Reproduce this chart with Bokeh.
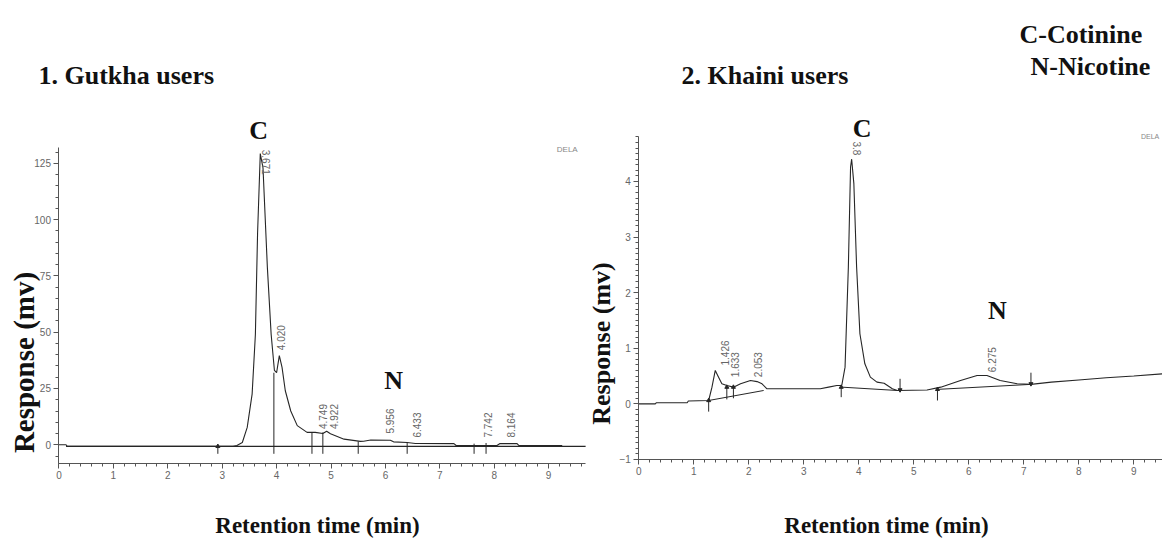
from bokeh.plotting import figure
from bokeh.layouts import row
from bokeh.models import Label, SingleIntervalTicker, ColumnDataSource
from bokeh.core.properties import value
from bokeh.embed import file_html
from bokeh.resources import INLINE
import math

# ---------------- data: 1. Gutkha users ----------------
g_time = [0, 0.13, 0.15, 3.2, 3.27, 3.37, 3.46, 3.55, 3.61, 3.65, 3.70, 3.75, 3.83, 3.90,
          3.96, 4.00, 4.05, 4.10, 4.16, 4.26, 4.38, 4.56, 4.71, 4.85, 4.92, 4.99, 5.24,
          5.54, 5.60, 5.73, 6.09, 6.15, 6.40, 6.55, 7.26, 7.30, 8.05, 8.10, 8.42, 8.45, 9.25]
g_resp = [0, 0, -0.7, -0.7, -0.3, 1.0, 7.7, 22.5, 49, 93.7, 129.3, 123, 78.9, 49,
          33, 32, 39.6, 34.4, 24, 15, 8.5, 5.5, 5.5, 5.0, 6.0, 4.9, 2.5,
          1.5, 1.6, 2.1, 2.0, 1.3, 1.0, 0.6, 0.5, -0.3, -0.3, 0.5, 0.5, -0.3, -0.3]
g_base_t = [0.13, 9.68]
g_base_r = [-0.7, -0.7]
g_mark_t = [3.95, 4.65, 4.85, 5.5, 6.4, 7.63, 7.85]
g_mark_top = [32, 5.5, 5.5, 1.5, 1.0, 0.5, 0.8]
g_mark_bot = [-4, -4, -4, -4, -4, -4, -4]
g_arrow_t = [2.92]
g_arrow_tip = [-0.7]
g_arrow_bot = [-4]
g_peak_lbl = ["4.020", "4.749", "4.922", "5.956", "6.433", "7.742", "8.164"]
g_peak_x = [4.08, 4.86, 5.06, 6.09, 6.58, 7.88, 8.31]
g_peak_y = [42, 7, 7, 5, 3.2, 3.2, 3.2]
g_top_lbl = ["3.671"]
g_top_x = [3.80]
g_top_y = [131]
g_x_ticks_end = 9.68
g_y_axis = (-8.3, 132)

# ---------------- data: 2. Khaini users ----------------
k_time = [0, 0.3, 0.32, 0.88, 0.9, 1.27, 1.33, 1.39, 1.45, 1.51, 1.6, 1.72, 1.85, 2.03,
          2.15, 2.24, 2.33, 2.45, 3.3, 3.45, 3.6, 3.69, 3.75, 3.81, 3.85, 3.87, 3.91, 3.96,
          4.02, 4.11, 4.21, 4.33, 4.46, 4.61, 4.70, 5.24, 5.49, 5.85, 6.15, 6.33, 6.57,
          6.88, 7.13, 7.5, 8.0, 8.5, 9.0, 9.53]
k_resp = [0, 0, 0.02, 0.02, 0.05, 0.06, 0.30, 0.60, 0.48, 0.36, 0.33, 0.30, 0.36, 0.42,
          0.40, 0.36, 0.27, 0.27, 0.27, 0.30, 0.33, 0.33, 0.66, 2.46, 4.26, 4.4, 3.96, 2.46,
          1.26, 0.72, 0.48, 0.39, 0.37, 0.27, 0.24, 0.25, 0.30, 0.42, 0.51, 0.51, 0.42,
          0.36, 0.35, 0.39, 0.43, 0.47, 0.50, 0.54]
k_base_t0 = [1.27, 3.69, 5.43]
k_base_r0 = [0.06, 0.30, 0.26]
k_base_t1 = [2.27, 4.70, 7.13]
k_base_r1 = [0.24, 0.24, 0.35]
k_up_t = [1.27, 1.6, 1.72, 3.68, 5.43]
k_up_tip = [0.06, 0.30, 0.30, 0.30, 0.26]
k_up_bot = [-0.14, 0.08, 0.10, 0.12, 0.06]
k_dn_t = [4.75, 7.13]
k_dn_tip = [0.25, 0.36]
k_dn_top = [0.45, 0.56]
k_peak_lbl = ["1.426", "1.633", "2.053", "6.275"]
k_peak_x = [1.57, 1.74, 2.16, 6.43]
k_peak_y = [0.69, 0.48, 0.48, 0.57]
k_top_lbl = ["3.8"]
k_top_x = [3.97]
k_top_y = [4.72]
k_x_ticks_end = 9.53
k_y_axis = (-1, 4.8)

SERIF = "Liberation Serif"
SANS = "Liberation Sans"
LINE = "#262626"
AX = "#555555"
TXT = "#666666"
INK = "#111111"


def style_axes(p):
    for ax in [p.xaxis[0], p.yaxis[0]]:
        ax.axis_line_color = AX
        ax.major_tick_line_color = AX
        ax.minor_tick_line_color = AX
        ax.major_tick_out = 5
        ax.major_tick_in = 0
        ax.minor_tick_out = 3
        ax.minor_tick_in = 0
        ax.major_label_text_font = SANS
        ax.major_label_text_font_size = "10px"
        ax.major_label_text_color = TXT
        ax.major_label_standoff = 3
    p.grid.visible = False
    p.outline_line_color = None
    p.background_fill_color = "white"
    p.border_fill_color = "white"
    p.title.text = ""
    p.title.visible = False


def screen_label(p, x, y, text, size="26px", angle=0.0, align="left", baseline="alphabetic"):
    p.add_layout(Label(x=x, y=y, x_units="screen", y_units="screen", text=text,
                       text_font=SERIF, text_font_style="bold", text_font_size=size,
                       text_color=INK, angle=angle, text_align=align,
                       text_baseline=baseline))


def peak_text(p, xs, ys, labels, angle):
    src = ColumnDataSource(dict(x=xs, y=ys, t=labels))
    p.text(x="x", y="y", text="t", source=src, angle=angle, text_align="left",
           text_baseline="middle", text_font=value(SANS), text_font_size="10px",
           text_color=TXT)


def big_letter(p, x, y, letter):
    p.text(x=[x], y=[y], text=[letter], text_font=value(SERIF), text_font_style="bold",
           text_font_size="26px", text_color=INK, text_align="center", text_baseline="middle")


# ---------------- left figure (frame = whole canvas, axes at fixed locations) ----------------
p1 = figure(width=588, height=539, x_range=(-1.075, 9.733), y_range=(-42.05, 197.27),
            output_backend="svg", toolbar_location=None,
            min_border_left=0, min_border_right=0, min_border_top=0, min_border_bottom=0)
p1.xaxis.ticker = SingleIntervalTicker(interval=1, num_minor_ticks=5)
p1.yaxis.ticker = SingleIntervalTicker(interval=25, num_minor_ticks=5)
p1.xaxis.fixed_location = g_y_axis[0]
p1.yaxis.fixed_location = 0
p1.xaxis.bounds = (0, g_x_ticks_end)
p1.yaxis.bounds = g_y_axis
style_axes(p1)

p1.line(g_base_t, g_base_r, line_color=LINE, line_width=1.1)
p1.line(g_time, g_resp, line_color=LINE, line_width=1.1)
p1.segment(x0=g_mark_t, y0=g_mark_bot, x1=g_mark_t, y1=g_mark_top, line_color=LINE, line_width=1)
p1.segment(x0=g_arrow_t, y0=g_arrow_bot, x1=g_arrow_t, y1=g_arrow_tip, line_color=LINE, line_width=1)
p1.scatter(g_arrow_t, g_arrow_tip, marker="triangle", size=4, color=LINE)
peak_text(p1, g_peak_x, g_peak_y, g_peak_lbl, math.pi / 2)
peak_text(p1, g_top_x, g_top_y, g_top_lbl, -math.pi / 2)
p1.text(x=[9.15], y=[131], text=["DELA"], text_font=value(SANS), text_font_size="8px",
        text_color="#888888", text_baseline="middle")
big_letter(p1, 3.67, 139.5, "C")
big_letter(p1, 6.15, 28.5, "N")

screen_label(p1, 38, 464, "1. Gutkha users")
screen_label(p1, 23, 177, "Response (mv)", size="29px", angle=math.pi / 2,
             align="center", baseline="middle")
screen_label(p1, 317, 14, "Retention time (min)", size="23px", align="center")

# ---------------- right figure ----------------
p2 = figure(width=574, height=539, x_range=(-0.915, 9.522), y_range=(-2.44, 7.254),
            output_backend="svg", toolbar_location=None,
            min_border_left=0, min_border_right=0, min_border_top=0, min_border_bottom=0)
p2.xaxis.ticker = SingleIntervalTicker(interval=1, num_minor_ticks=5)
p2.yaxis.ticker = SingleIntervalTicker(interval=1, num_minor_ticks=10)
p2.xaxis.fixed_location = k_y_axis[0]
p2.yaxis.fixed_location = 0
p2.xaxis.bounds = (0, k_x_ticks_end)
p2.yaxis.bounds = k_y_axis
style_axes(p2)

p2.line(k_time, k_resp, line_color=LINE, line_width=1.1)
p2.segment(x0=k_base_t0, y0=k_base_r0, x1=k_base_t1, y1=k_base_r1, line_color=LINE, line_width=1)
p2.segment(x0=k_up_t, y0=k_up_bot, x1=k_up_t, y1=k_up_tip, line_color=LINE, line_width=1)
p2.scatter(k_up_t, k_up_tip, marker="triangle", size=4, color=LINE)
p2.segment(x0=k_dn_t, y0=k_dn_top, x1=k_dn_t, y1=k_dn_tip, line_color=LINE, line_width=1)
p2.scatter(k_dn_t, k_dn_tip, marker="inverted_triangle", size=4, color=LINE)
peak_text(p2, k_peak_x, k_peak_y, k_peak_lbl, math.pi / 2)
peak_text(p2, k_top_x, k_top_y, k_top_lbl, -math.pi / 2)
p2.text(x=[9.13], y=[4.8], text=["DELA"], text_font=value(SANS), text_font_size="7px",
        text_color="#888888", text_baseline="middle")
big_letter(p2, 4.06, 4.95, "C")
big_letter(p2, 6.52, 1.68, "N")

screen_label(p2, 93, 464, "2. Khaini users")
screen_label(p2, 431, 505, "C-Cotinine")
screen_label(p2, 442, 473, "N-Nicotine")
screen_label(p2, 13, 196, "Response (mv)", size="26px", angle=math.pi / 2,
             align="center", baseline="middle")
screen_label(p2, 298, 14, "Retention time (min)", size="23px", align="center")

layout = row(p1, p2)
open("out.html", "w").write(file_html(layout, INLINE))
